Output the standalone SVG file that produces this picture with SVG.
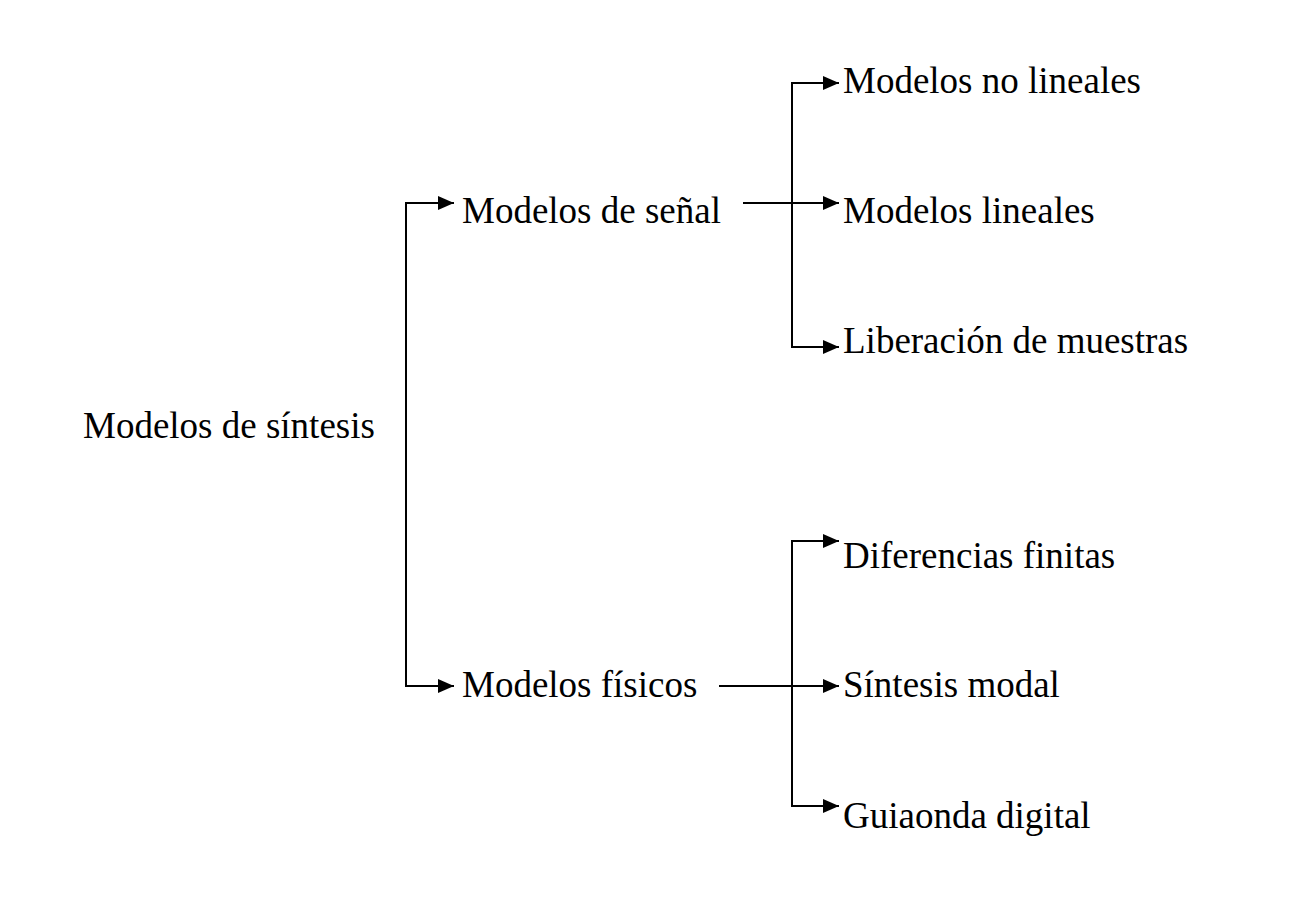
<svg xmlns="http://www.w3.org/2000/svg" width="1310" height="922" viewBox="0 0 1310 922">
<style>
text{font-family:"Liberation Serif","Times New Roman",serif;font-size:37px;fill:#000}
.c{fill:none;stroke:#000;stroke-width:2}
</style>
<defs>
<marker id="ah" viewBox="0 0 16 14" refX="16" refY="7" markerWidth="16" markerHeight="14" markerUnits="userSpaceOnUse" orient="auto">
<path d="M0,0 L16,7 L0,14 Z" fill="#000"/>
</marker>
</defs>
<rect width="1310" height="922" fill="#fff"/>
<g id="connectors">
<path class="c" d="M406,445 V203 H454" marker-end="url(#ah)"/>
<path class="c" d="M406,445 V686 H454" marker-end="url(#ah)"/>
<path class="c" d="M743,203 H839" marker-end="url(#ah)"/>
<path class="c" d="M792,203 V83 H839" marker-end="url(#ah)"/>
<path class="c" d="M792,203 V347 H839" marker-end="url(#ah)"/>
<path class="c" d="M719,686 H839" marker-end="url(#ah)"/>
<path class="c" d="M792,686 V541 H839" marker-end="url(#ah)"/>
<path class="c" d="M792,686 V806 H839" marker-end="url(#ah)"/>
</g>
<g id="n-root"><text x="83" y="438">Modelos de síntesis</text></g>
<g id="n-senal"><text x="462" y="223">Modelos de señal</text></g>
<g id="n-fisicos"><text x="462" y="697">Modelos físicos</text></g>
<g id="n-nolin"><text x="843" y="93">Modelos no lineales</text></g>
<g id="n-lin"><text x="843" y="223">Modelos lineales</text></g>
<g id="n-lib"><text x="843" y="353">Liberación de muestras</text></g>
<g id="n-dif"><text x="843" y="568">Diferencias finitas</text></g>
<g id="n-modal"><text x="843" y="697">Síntesis modal</text></g>
<g id="n-guia"><text x="843" y="828">Guiaonda digital</text></g>
</svg>
